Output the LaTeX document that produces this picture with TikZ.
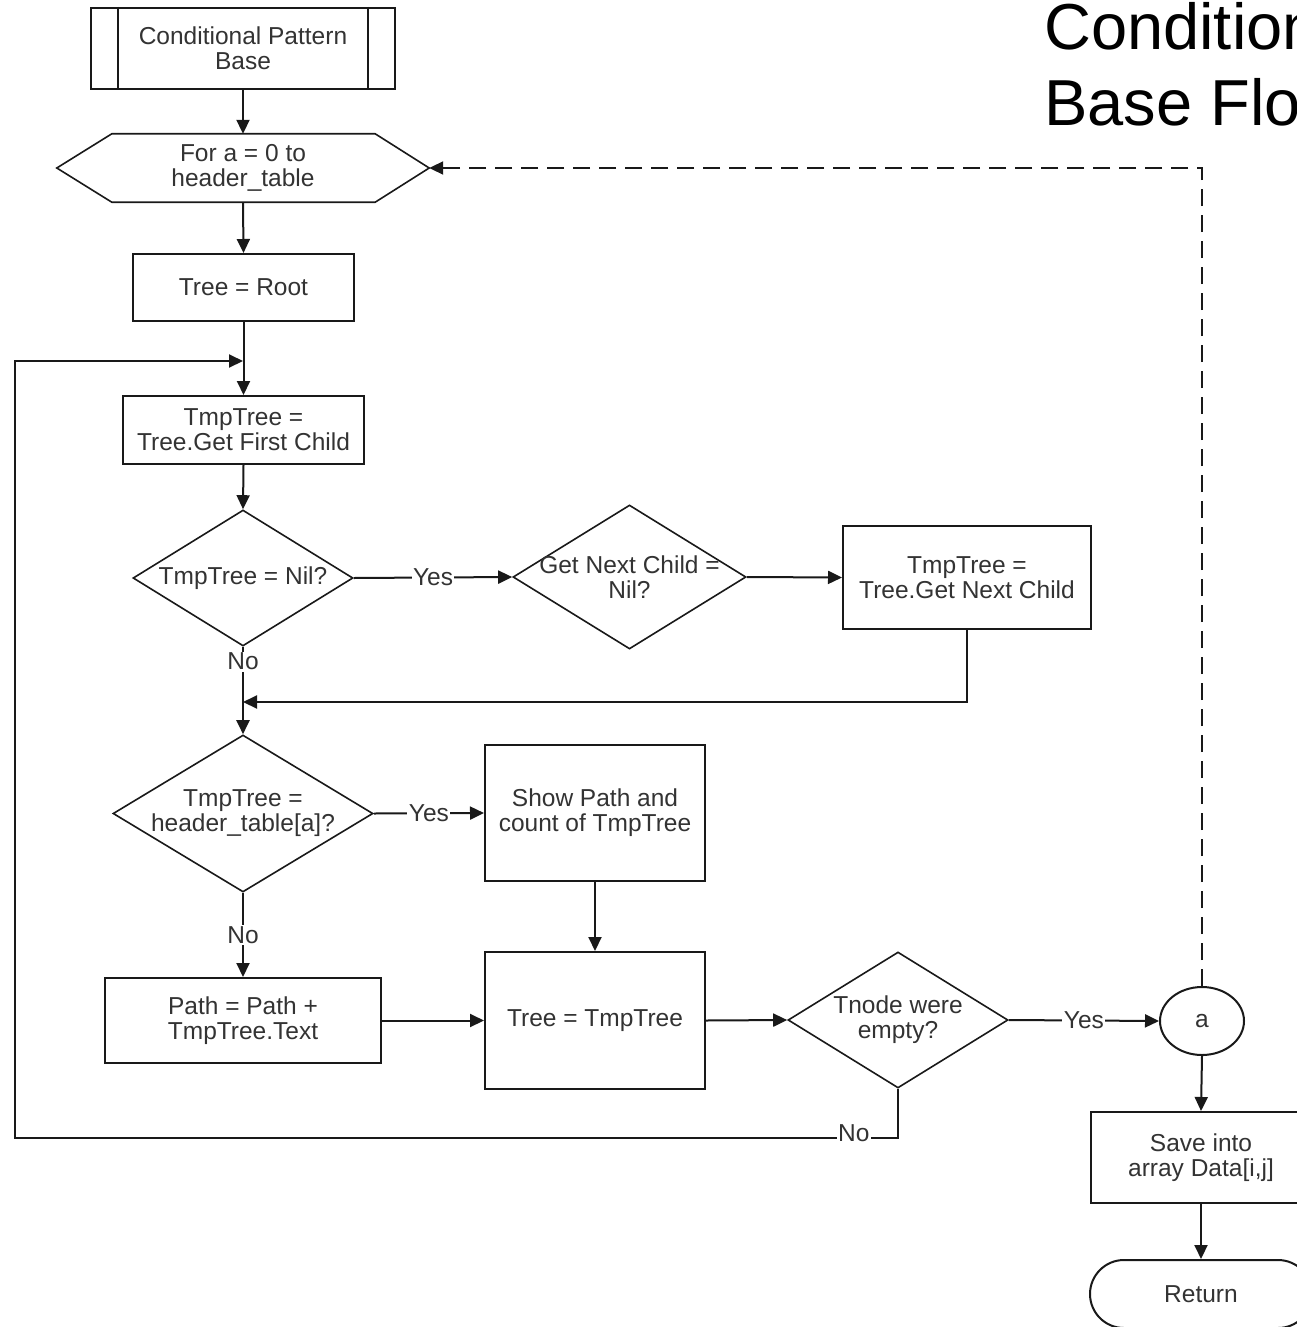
\documentclass[tikz,border=0pt]{standalone}
\usepackage{fontspec}
\setmainfont{Liberation Sans}
\usetikzlibrary{arrows.meta,shapes.geometric}

\newcommand{\flowfont}{\fontsize{24.5}{25}\selectfont}
\newcommand{\titlefont}{\fontsize{65}{75}\selectfont}

\tikzset{
  line/.style={line width=2pt, draw=black!90},
  arr/.style={line, -{Triangle[length=14pt,width=13pt]}},
  dasharr/.style={arr, dash pattern=on 17pt off 9pt},
  txt/.style={font=\flowfont, text=black!80, align=center},
  box/.style={txt, draw=black!90, line width=2pt, rectangle, inner sep=2pt},
  decision/.style={draw=black!90, line width=1.6pt, diamond, inner sep=0pt},
  dtext/.style={txt, inner sep=0pt},
  lbl/.style={txt, fill=white, inner sep=1.5pt},
  conn/.style={draw=black!90, line width=2pt, ellipse, inner sep=0pt, txt},
  term/.style={box, rounded corners=34pt},
}

\begin{document}
\begin{tikzpicture}[x=1pt, y=-1pt]
  \useasboundingbox[fill=white] (0,0) rectangle (1297,1327);

  % title
  \node[anchor=base west, inner sep=0pt, font=\titlefont] (title1) at (1044,50) {Conditional Pattern};
  \node[anchor=base west, inner sep=0pt, font=\titlefont] (title2) at (1044,125) {Base Flowchart};

  % predefined process
  \node[box, minimum width=304pt, minimum height=81pt] (cpb) at (243,48.5) {Conditional Pattern\\Base};
  \draw[line] ([xshift=28pt]cpb.north west) -- ([xshift=28pt]cpb.south west);
  \draw[line] ([xshift=-28pt]cpb.north east) -- ([xshift=-28pt]cpb.south east);

  % loop header (hexagon)
  \node[txt, minimum width=372pt, minimum height=68pt, inner sep=0pt] (loop) at (243,168) {For a = 0 to\\header\_table};
  \draw[line, line width=1.6pt] (loop.west) -- ([xshift=55pt]loop.north west) -- ([xshift=-54pt]loop.north east)
        -- (loop.east) -- ([xshift=-54pt]loop.south east) -- ([xshift=55pt]loop.south west) -- cycle;

  \node[box, minimum width=221pt, minimum height=67pt] (root) at (243.5,287.5) {Tree = Root};
  \node[box, minimum width=241pt, minimum height=68pt] (fc) at (243.5,430) {TmpTree =\\Tree.Get First Child};

  \node[decision, minimum width=220pt, minimum height=136pt,
        label={[dtext, name=d1t]center:TmpTree = Nil?}] (d1) at (243,578) {};
  \node[decision, minimum width=233pt, minimum height=144pt,
        label={[dtext, name=d2t]center:{Get Next Child =\\Nil?}}] (d2) at (629.5,577) {};
  \node[box, minimum width=248pt, minimum height=103pt] (nc) at (967,577.5) {TmpTree =\\Tree.Get Next Child};

  \node[decision, minimum width=260pt, minimum height=157pt,
        label={[dtext, name=d3t]center:{TmpTree =\\header\_table[a]?}}] (d3) at (243,813.5) {};
  \node[box, minimum width=220pt, minimum height=136pt] (sp) at (595,813) {Show Path and\\count of TmpTree};

  \node[box, minimum width=276pt, minimum height=85pt] (pp) at (243,1020.5) {Path = Path +\\TmpTree.Text};
  \node[box, minimum width=220pt, minimum height=137pt] (tt) at (595,1020.5) {Tree = TmpTree};
  \node[decision, minimum width=220pt, minimum height=136pt,
        label={[dtext, name=d4t]center:{Tnode were\\empty?}}] (d4) at (898,1020) {};

  \node[conn, minimum width=84pt, minimum height=68pt] (ca) at (1202,1021) {a};
  \node[box, minimum width=220pt, minimum height=91pt] (sv) at (1201,1157.5) {Save into\\array Data[i,j]};
  \node[term, minimum width=222pt, minimum height=68pt] (ret) at (1201,1294) {Return};

  % junction points
  \coordinate (j1) at (243,361);
  \coordinate (j2) at (243,702);
  \coordinate (lb) at (15,1138);
  \coordinate (lt) at (15,361);
  \coordinate (dt) at (1202,168);

  % main flow
  \draw[arr] (cpb.south) -- (loop.north);
  \draw[arr] (loop.south) -- (root.north);
  \draw[arr] (root.south) -- (fc.north);
  \draw[arr] (fc.south) -- (d1.north);
  \draw[arr] (d1.east) -- node[lbl]{Yes} (d2.west);
  \draw[arr] (d2.east) -- (nc.west);
  \draw[arr] (nc.south) |- (j2);
  \draw[arr] (d1.south) -- node[lbl, pos=0.17]{No} (d3.north);
  \draw[arr] (d3.east) -- node[lbl]{Yes} (sp.west);
  \draw[arr] (d3.south) -- node[lbl]{No} (pp.north);
  \draw[arr] (sp.south) -- (tt.north);
  \draw[arr] (pp.east) -- (tt.west);
  \draw[arr] (tt.east) -- (d4.west);
  \draw[arr] (d4.east) -- node[lbl]{Yes} (ca.west);
  \draw[arr] (ca.south) -- (sv.north);
  \draw[arr] (sv.south) -- (ret.north);

  % back to the next loop iteration
  \draw[dasharr] (ca.north) -- (dt) -- (loop.east);

  % no: back to the first child
  \draw[arr] (d4.south) -- (d4.south |- lb) -- node[lbl, pos=0.05, yshift=5pt]{No} (lb) -- (lt) -- (j1);
\end{tikzpicture}
\end{document}
